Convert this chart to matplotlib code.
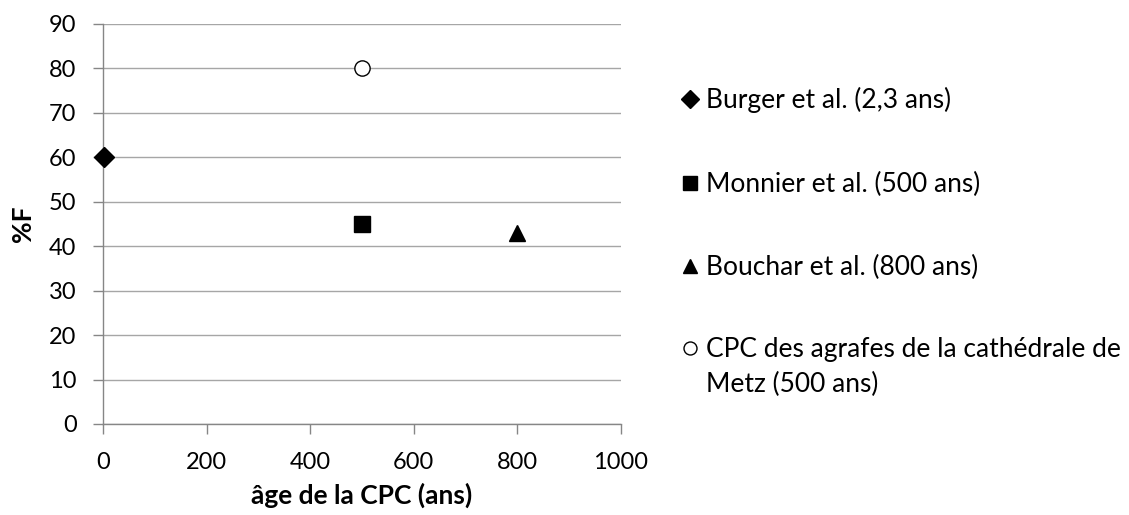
import matplotlib.pyplot as plt

plt.rcParams['font.family'] = ['Lato', 'DejaVu Sans']

# Series: age of the CPC (years) vs %F
labels = ["Burger et al. (2,3 ans)",
          "Monnier et al. (500 ans)",
          "Bouchar et al. (800 ans)",
          "CPC des agrafes de la cathédrale de\nMetz (500 ans)"]
ages = [2.3, 500, 800, 500]
pct_f = [60, 45, 43, 80]
markers = ['D', 's', '^', 'o']
sizes = [10.5, 11.5, 12, 11]
filled = [True, True, True, False]

x_ticks = [0, 200, 400, 600, 800, 1000]
y_ticks = list(range(0, 100, 10))

W, H = 1129, 515
fig = plt.figure(figsize=(W / 100, H / 100), dpi=100)
ax = fig.add_axes([103 / W, 1 - 424 / H, 518 / W, 400 / H])

for lab, x, y, m, s, f in zip(labels, ages, pct_f, markers, sizes, filled):
    ax.plot([x], [y], linestyle='none', marker=m, markersize=s,
            markerfacecolor='black' if f else 'white',
            markeredgecolor='black', markeredgewidth=1.0,
            clip_on=False, zorder=5)

ax.set_xlim(0, 1000)
ax.set_ylim(0, 90)
ax.set_xticks(x_ticks)
ax.set_yticks(y_ticks)
ax.tick_params(labelsize=17, length=7, width=1, color='#868686')
ax.tick_params(axis='y', pad=12)
ax.tick_params(axis='x', pad=13)

ax.grid(axis='y', color='#a6a6a6', linewidth=1)
ax.set_axisbelow(True)
for side in ['top', 'right']:
    ax.spines[side].set_visible(False)
for side in ['left', 'bottom']:
    ax.spines[side].set_color('#868686')
    ax.spines[side].set_linewidth(1)

ax.set_xlabel("âge de la CPC (ans)", fontsize=19, fontweight='bold', labelpad=7)
ax.set_ylabel("%F", fontsize=19, fontweight='bold', labelpad=10)

# Legend drawn by hand so the marker sits on the first line of each label
leg_y = [99, 183, 266, 348]
line_step = 35
for lab, y, m, s, f in zip(labels, leg_y, markers, sizes, filled):
    fig.lines.append(plt.Line2D([690 / W], [1 - y / H], transform=fig.transFigure,
                                linestyle='none', marker=m, markersize=s * 0.85,
                                markerfacecolor='black' if f else 'white',
                                markeredgecolor='black', markeredgewidth=1.0))
    for i, part in enumerate(lab.split('\n')):
        fig.text(706 / W, 1 - (y + 9 + i * line_step) / H, part, fontsize=19,
                 va='baseline', ha='left')

fig.savefig("out.png", dpi=100)
